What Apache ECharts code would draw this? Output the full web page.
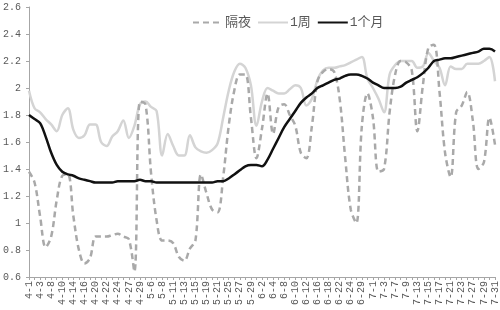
<!DOCTYPE html>
<html>
<head>
<meta charset="utf-8">
<script src="https://cdn.jsdelivr.net/npm/echarts@6/dist/echarts.min.js"></script>
<style>html,body{margin:0;padding:0;background:#fff;}#c{width:500px;height:310px;}</style>
</head>
<body>
<div id="c"></div>
<script>
const categories = ['4-1','4-2','4-3','4-7','4-8','4-9','4-10','4-13','4-14','4-15','4-16','4-17','4-20','4-21','4-22','4-23','4-24','4-26','4-27','4-28','4-29','4-30',
'5-6','5-7','5-8','5-9','5-11','5-12','5-13','5-14','5-15','5-18','5-19','5-20','5-21','5-22','5-25','5-26','5-27','5-28','5-29',
'6-1','6-2','6-3','6-4','6-5','6-8','6-9','6-10','6-11','6-12','6-15','6-16','6-17','6-18','6-19','6-22','6-23','6-24','6-28','6-29','6-30',
'7-1','7-2','7-3','7-6','7-7','7-8','7-9','7-10','7-13','7-14','7-15','7-16','7-17','7-20','7-21','7-22','7-23','7-24','7-27','7-28','7-29','7-30','7-31'];

const overnight = [1.38,1.30,1.05,0.82,0.90,1.17,1.35,1.36,1.05,0.80,0.70,0.74,0.90,0.90,0.90,0.91,0.92,0.90,0.88,0.64,1.90,1.88,
1.37,1.02,0.87,0.87,0.85,0.75,0.72,0.81,0.87,1.36,1.22,1.10,1.08,1.34,1.72,1.98,2.10,2.10,1.78,
1.48,1.70,1.96,1.66,1.86,1.88,1.80,1.72,1.52,1.48,1.72,2.05,2.12,2.14,2.12,1.92,1.48,1.10,1.00,1.72,1.96,
1.78,1.38,1.40,1.82,2.10,2.20,2.19,2.13,1.68,2.02,2.30,2.32,1.97,1.52,1.34,1.82,1.87,1.97,1.76,1.40,1.45,1.78,1.58];

const week1 = [1.98,1.85,1.82,1.77,1.73,1.68,1.80,1.85,1.69,1.63,1.65,1.73,1.73,1.60,1.57,1.64,1.68,1.76,1.63,1.72,1.88,1.90,
1.86,1.83,1.50,1.66,1.57,1.50,1.50,1.65,1.56,1.53,1.52,1.54,1.59,1.78,1.98,2.12,2.18,2.15,2.02,
1.72,1.90,2.00,1.98,1.96,1.96,1.99,2.02,2.00,1.87,1.92,2.06,2.13,2.15,2.15,2.16,2.17,2.19,2.21,2.23,2.07,
2.00,1.92,1.82,2.10,2.17,2.20,2.20,2.20,2.15,2.16,2.26,2.20,2.15,2.02,2.16,2.14,2.14,2.18,2.18,2.18,2.20,2.23,2.05];

const month1 = [1.80,1.77,1.74,1.64,1.52,1.43,1.38,1.36,1.35,1.33,1.32,1.31,1.30,1.30,1.30,1.30,1.31,1.31,1.31,1.31,1.32,1.31,
1.31,1.30,1.30,1.30,1.30,1.30,1.30,1.30,1.30,1.30,1.30,1.30,1.31,1.31,1.33,1.36,1.39,1.42,1.43,
1.43,1.42,1.47,1.55,1.63,1.71,1.77,1.83,1.89,1.93,1.96,2.00,2.02,2.04,2.06,2.07,2.09,2.10,2.10,2.09,2.07,
2.04,2.02,2.00,2.00,2.00,2.01,2.04,2.06,2.08,2.11,2.15,2.20,2.21,2.22,2.22,2.23,2.24,2.25,2.26,2.27,2.29,2.29,2.27];

const yTicks = {min: 0.6, max: 2.6, interval: 0.2};
const seriesNames = ['隔夜', '1周', '1个月'];

const labelFont = 'Liberation Mono, "Noto Sans CJK SC", monospace';
const chart = echarts.init(document.getElementById('c'), null, {renderer: 'canvas'});
chart.setOption({
  animation: false,
  backgroundColor: '#fff',
  grid: {left: 29, right: 5, top: 7, bottom: 33, containLabel: false},
  legend: {
    left: 187, top: 11, itemWidth: 30, itemHeight: 10, itemGap: 6,
    itemStyle: {opacity: 0},
    textStyle: {fontFamily: labelFont, fontSize: 13, color: '#595959', padding: [0,0,0,-3]},
    data: seriesNames
  },
  xAxis: {
    type: 'category', data: categories, boundaryGap: false,
    axisLine: {lineStyle: {color: '#a6a6a6', width: 1}},
    axisTick: {show: true, interval: 0, length: 3, lineStyle: {color: '#a6a6a6'}},
    axisLabel: {interval: 1, rotate: 90, margin: 4, fontSize: 10, color: '#595959', fontFamily: labelFont},
    splitLine: {show: false}
  },
  yAxis: {
    type: 'value', min: yTicks.min, max: yTicks.max, interval: yTicks.interval,
    axisLine: {show: true, lineStyle: {color: '#a6a6a6', width: 1}},
    axisTick: {show: true, length: 3, lineStyle: {color: '#a6a6a6'}},
    axisLabel: {margin: 8, fontSize: 10, color: '#595959', fontFamily: labelFont,
      formatter: v => (Math.round(v * 10) / 10).toString()},
    splitLine: {show: false}
  },
  series: [
    {name: seriesNames[0], type: 'line', data: overnight, smooth: 0.35, symbol: 'none',
      lineStyle: {color: '#a9a9a9', width: 2.5, type: [6, 4]}, itemStyle: {color: '#a9a9a9'}, z: 2},
    {name: seriesNames[1], type: 'line', data: week1, smooth: 0.35, symbol: 'none',
      lineStyle: {color: '#d4d4d4', width: 2.5}, itemStyle: {color: '#d4d4d4'}, z: 1},
    {name: seriesNames[2], type: 'line', data: month1, smooth: 0.35, symbol: 'none',
      lineStyle: {color: '#111111', width: 2.5}, itemStyle: {color: '#111111'}, z: 3}
  ]
});
</script>
</body>
</html>
